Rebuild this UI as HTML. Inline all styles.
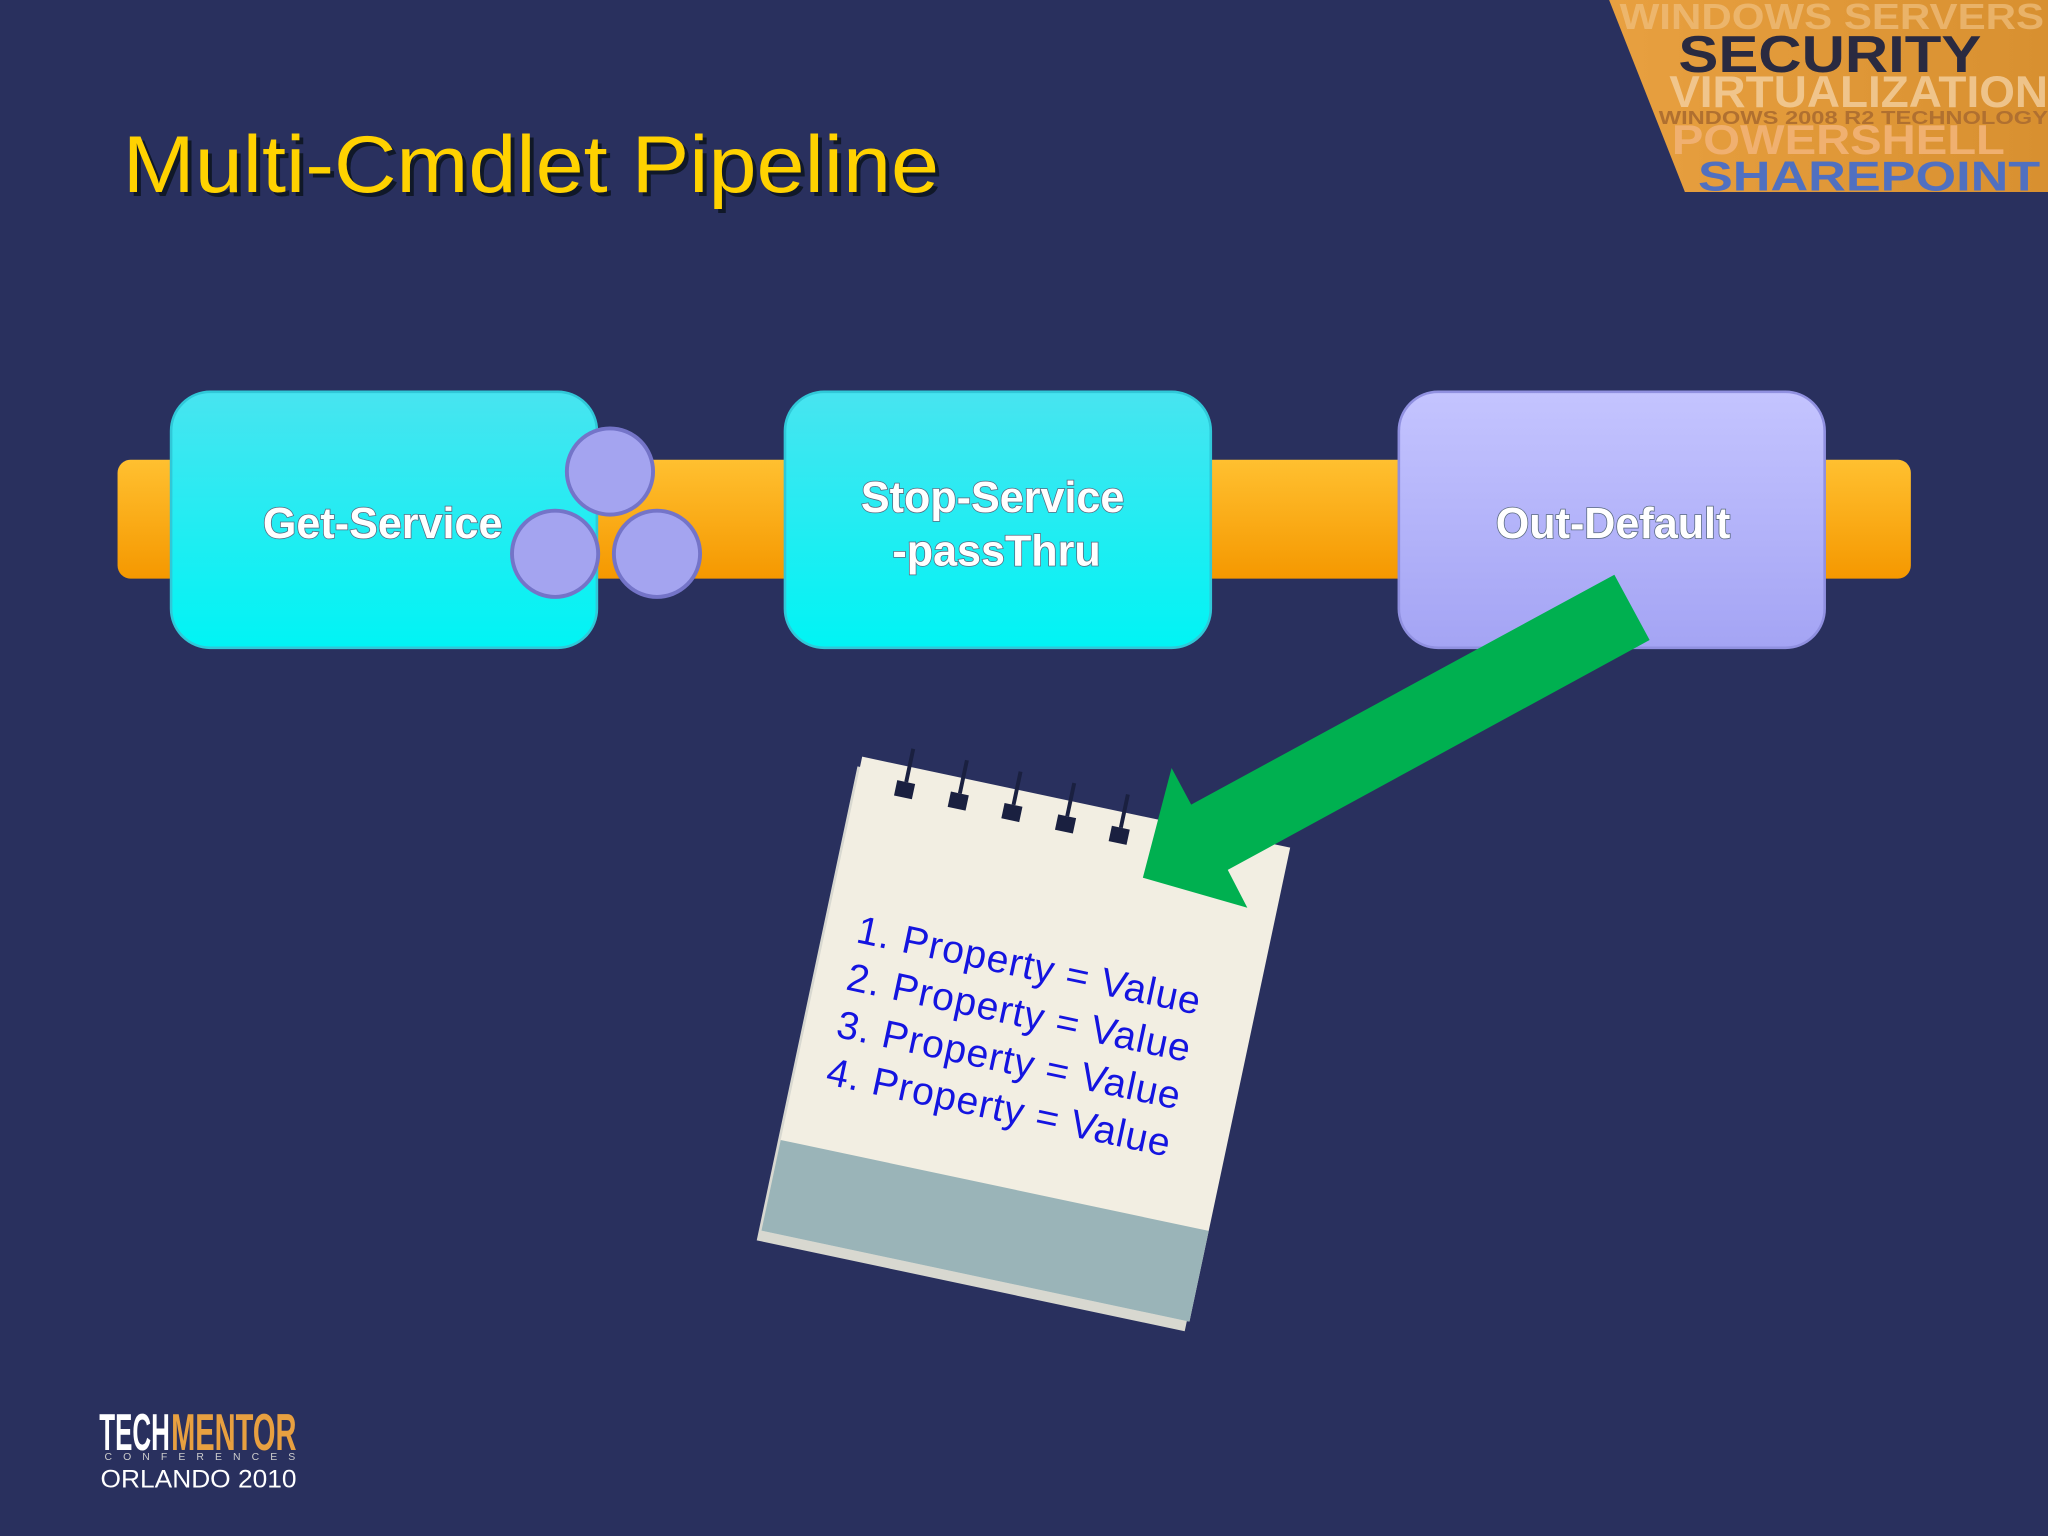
<!DOCTYPE html>
<html><head><meta charset="utf-8"><style>
html,body{margin:0;padding:0;background:#29305e;}
svg{display:block}
</style></head><body>
<svg width="2048" height="1536" viewBox="0 0 1568 1176" xmlns="http://www.w3.org/2000/svg">
<defs>
<linearGradient id="org" x1="0" y1="0" x2="0" y2="1"><stop offset="0" stop-color="#ffc030"/><stop offset="1" stop-color="#f59800"/></linearGradient>
<linearGradient id="cy" x1="0" y1="0" x2="0" y2="1"><stop offset="0" stop-color="#48e4f0"/><stop offset="1" stop-color="#00f4f4"/></linearGradient>
<linearGradient id="pu" x1="0" y1="0" x2="0" y2="1"><stop offset="0" stop-color="#c4c4ff"/><stop offset="1" stop-color="#a4a4f4"/></linearGradient>
<linearGradient id="lg" x1="0" y1="0" x2="1" y2="0"><stop offset="0" stop-color="#e8a040"/><stop offset="1" stop-color="#d89030"/></linearGradient>
</defs>
<rect width="1568" height="1176" fill="#29305e"/>
<polygon points="1232,0 1568,0 1568,147 1290,147" fill="url(#lg)"/>
<g font-family="Liberation Sans, sans-serif" font-weight="bold">
<text x="1240" y="22" font-size="28" fill="#f0c080" opacity="0.7" textLength="325" lengthAdjust="spacingAndGlyphs">WINDOWS SERVERS</text>
<text x="1285" y="55" font-size="40" fill="#2a2a40" textLength="232" lengthAdjust="spacingAndGlyphs">SECURITY</text>
<text x="1278" y="82" font-size="34" fill="#f4d0a0" opacity="0.8" textLength="290" lengthAdjust="spacingAndGlyphs">VIRTUALIZATION</text>
<text x="1270" y="95" font-size="14" fill="#b07030" textLength="298" lengthAdjust="spacingAndGlyphs">WINDOWS 2008 R2 TECHNOLOGY</text>
<text x="1280" y="118" font-size="32" fill="#f0b070" textLength="255" lengthAdjust="spacingAndGlyphs">POWERSHELL</text>
<text x="1300" y="146" font-size="32" fill="#5070c0" textLength="262" lengthAdjust="spacingAndGlyphs">SHAREPOINT</text>
</g>
<text x="97" y="150" font-family="Liberation Sans, sans-serif" font-size="62" fill="#101828" textLength="625" lengthAdjust="spacingAndGlyphs">Multi-Cmdlet Pipeline</text>
<text x="94" y="147" font-family="Liberation Sans, sans-serif" font-size="62" fill="#ffd200" textLength="625" lengthAdjust="spacingAndGlyphs">Multi-Cmdlet Pipeline</text>
<rect x="90" y="352" width="1373" height="91" rx="10" fill="url(#org)"/>
<rect x="131" y="300" width="326" height="196" rx="30" fill="url(#cy)" stroke="#30c8d8" stroke-width="2"/>
<rect x="601" y="300" width="326" height="196" rx="30" fill="url(#cy)" stroke="#30c8d8" stroke-width="2"/>
<rect x="1071" y="300" width="326" height="196" rx="30" fill="url(#pu)" stroke="#9090e0" stroke-width="2"/>
<g font-family="Liberation Sans, sans-serif" font-weight="bold" font-size="33" text-anchor="middle" fill="#fff" stroke="#5a6a80" stroke-width="1.2" paint-order="stroke">
<text x="293" y="412">Get-Service</text>
<text x="760" y="392">Stop-Service</text>
<text x="763" y="433">-passThru</text>
<text x="1235" y="412">Out-Default</text>
</g>
<g fill="#a4a4f0" stroke="#7474c8" stroke-width="3">
<circle cx="467" cy="361" r="33"/>
<circle cx="425" cy="424" r="33"/>
<circle cx="503" cy="424" r="33"/>
</g>
<g transform="rotate(12 785 795)">
<rect x="622" y="614" width="335" height="371" fill="#d8d8d0" transform="translate(-6,4)"/>
<rect x="618" y="610" width="335" height="371" fill="#f2eee2"/>
<rect x="618" y="910" width="335" height="71" fill="#9ab4b8"/>
<g fill="#1a2040">
<rect x="648" y="622" width="14" height="12"/><rect x="690" y="622" width="14" height="12"/><rect x="732" y="622" width="14" height="12"/><rect x="774" y="622" width="14" height="12"/><rect x="816" y="622" width="14" height="12"/>
</g>
<g stroke="#1a2040" stroke-width="3" fill="none">
<path d="M655,622 V596"/><path d="M697,622 V596"/><path d="M739,622 V596"/><path d="M781,622 V596"/><path d="M823,622 V596"/>
</g>
<g font-family="Liberation Sans, sans-serif" font-size="30" fill="#1414e0">
<text x="642" y="750" textLength="268" lengthAdjust="spacing">1.  Property = Value</text>
<text x="642" y="787" textLength="268" lengthAdjust="spacing">2.  Property = Value</text>
<text x="642" y="824" textLength="268" lengthAdjust="spacing">3.  Property = Value</text>
<text x="642" y="861" textLength="268" lengthAdjust="spacing">4.  Property = Value</text>
</g>
</g>
<polygon points="1236,440 912,616 897,588 875,672 955,695 940,666 1263,490" fill="#00b050"/>
<g font-family="Liberation Sans, sans-serif" font-weight="bold">
<text x="76" y="1110" font-size="40" fill="#fff" textLength="54" lengthAdjust="spacingAndGlyphs">TECH</text>
<text x="131" y="1110" font-size="40" fill="#e8a040" textLength="96" lengthAdjust="spacingAndGlyphs">MENTOR</text>
<text x="80" y="1118" font-size="8" font-weight="normal" fill="#ccc" textLength="146" lengthAdjust="spacing">CONFERENCES</text>
<text x="77" y="1139" font-size="19" font-weight="normal" fill="#fff" textLength="150" lengthAdjust="spacingAndGlyphs">ORLANDO 2010</text>
</g>
</svg>
</body></html>
